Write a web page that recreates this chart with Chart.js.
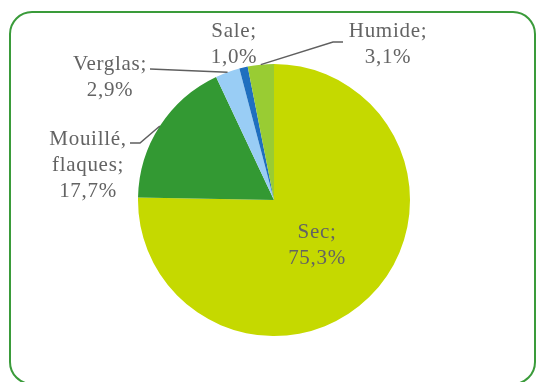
<!DOCTYPE html>
<html>
<head>
<meta charset="utf-8">
<script src="https://cdn.jsdelivr.net/npm/chart.js@4/dist/chart.umd.min.js"></script>
<style>
  html, body { margin: 0; padding: 0; background: #fff; overflow: hidden; }
  #wrap { position: relative; width: 536px; height: 382px; }
  #frame {
    position: absolute; left: 9px; top: 11px; width: 527px; height: 374px;
    border: 2px solid #3a9b3a; border-radius: 23px; box-sizing: border-box;
  }
  canvas { position: absolute; left: 0; top: 0; }
</style>
</head>
<body>
<div id="wrap">
  <div id="frame"></div>
  <canvas id="pie" width="536" height="382"></canvas>
</div>
<script>
// État de la chaussée (parts en %)
const categories = ['Sec', 'Mouillé, flaques', 'Verglas', 'Sale', 'Humide'];
const shares = [75.3, 17.7, 2.9, 1.0, 3.1];
const sliceColors = ['#c5d900', '#339933', '#99cdf5', '#1f6fbf', '#99cc33'];

// Placement des étiquettes : centre x, première ligne de base y, coude du trait de rappel
const labelLayout = [
    { x: 317, y: 238, leader: null },
    { x: 88, y: 145, leader: [[140, 143], [130, 143]] },
    { x: 110, y: 70, leader: [[150, 69]] },
    { x: 234, y: 37, leader: null },
    { x: 388, y: 37, leader: [[333, 42], [343, 42]] }
];

const fmtPct = v => v.toFixed(1).replace('.', ',') + '%';

const labelPlugin = {
    id: 'pieLabels',
    afterDatasetsDraw(chart) {
        const ctx = chart.ctx;
        const arcs = chart.getDatasetMeta(0).data;
        ctx.save();
        ctx.font = '21px "Liberation Serif", "Times New Roman", serif';
        ctx.letterSpacing = '0.7px';
        ctx.fillStyle = '#636363';
        ctx.strokeStyle = '#5f5f5f';
        ctx.lineWidth = 1.5;
        ctx.textAlign = 'center';
        ctx.textBaseline = 'alphabetic';

        arcs.forEach((arc, i) => {
            const pos = labelLayout[i];
            if (pos.leader) {
                const mid = (arc.startAngle + arc.endAngle) / 2;
                ctx.beginPath();
                ctx.moveTo(arc.x + Math.cos(mid) * arc.outerRadius, arc.y + Math.sin(mid) * arc.outerRadius);
                pos.leader.forEach(p => ctx.lineTo(p[0], p[1]));
                ctx.stroke();
            }
            const lines = categories[i].split(/(?<=,) /);
            lines[lines.length - 1] += ';';
            lines.push(fmtPct(shares[i]));
            lines.forEach((t, k) => ctx.fillText(t, pos.x, pos.y + k * 26));
        });
        ctx.restore();
    }
};

new Chart(document.getElementById('pie'), {
    type: 'pie',
    data: {
        labels: categories,
        datasets: [{
            data: shares,
            backgroundColor: sliceColors,
            borderWidth: 0
        }]
    },
    options: {
        responsive: false,
        animation: false,
        layout: { padding: { top: 64, bottom: 46, left: 138, right: 126 } },
        plugins: {
            legend: { display: false },
            tooltip: { enabled: false }
        }
    },
    plugins: [labelPlugin]
});
</script>
</body>
</html>
